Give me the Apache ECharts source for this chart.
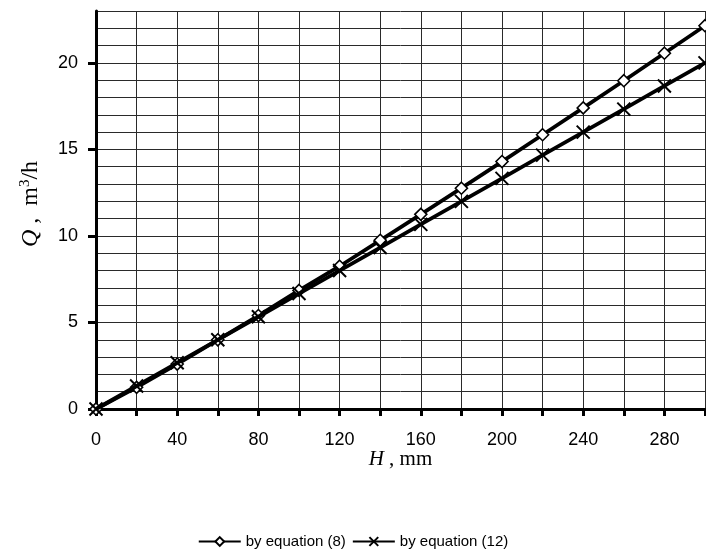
<!DOCTYPE html>
<html>
<head>
<meta charset="utf-8">
<script src="https://cdn.jsdelivr.net/npm/echarts@6/dist/echarts.min.js"></script>
<style>
html,body{margin:0;padding:0;background:#fff;}
#c{width:706px;height:555px;}
</style>
</head>
<body>
<div id="c"></div>
<script>
const H = [0, 20, 40, 60, 80, 100, 120, 140, 160, 180, 200, 220, 240, 260, 280, 300];
const Q_eq8 = [0, 1.25, 2.6, 4.0, 5.4, 6.85, 8.25, 9.75, 11.25, 12.76, 14.3, 15.85, 17.4, 18.97, 20.56, 22.15];
const Q_eq12 = [0, 1.33, 2.67, 4.0, 5.33, 6.67, 8.0, 9.33, 10.67, 12.0, 13.33, 14.67, 16.0, 17.33, 18.67, 20.0];
const xLabels = [0, 40, 80, 120, 160, 200, 240, 280];
const yLabels = [0, 5, 10, 15, 20];
const seriesNames = ['by equation (8)', 'by equation (12)'];

const crossPath = 'path://M0,0L10,10M10,0L0,10';
const chart = echarts.init(document.getElementById('c'), null, {renderer: 'canvas'});
chart.setOption({
  backgroundColor: '#fff',
  animation: false,
  grid: {left: 96, right: 1, top: 11, bottom: 146},
  xAxis: {
    type: 'value', min: 0, max: 300, interval: 20,
    name: '{i|H} , mm', nameLocation: 'middle', nameGap: 39, nameMoveOverlap: false,
    nameTextStyle: {fontFamily: 'Liberation Serif', fontSize: 21, color: '#000', lineHeight: 22,
      rich: {i: {fontFamily: 'Liberation Serif', fontStyle: 'italic', fontSize: 21, color: '#000', lineHeight: 22}}},
    axisLine: {show: true, lineStyle: {color: '#000', width: 3}},
    axisTick: {show: true, inside: false, length: 7, lineStyle: {color: '#000', width: 3}},
    axisLabel: {customValues: xLabels, margin: 22, fontFamily: 'Liberation Sans', fontSize: 18, color: '#000'},
    splitLine: {show: true, lineStyle: {color: '#2a2a2a', width: 1}}
  },
  yAxis: [
    {
      type: 'value', min: 0, max: 23, interval: 1,
      name: '{i|Q} ,  m{s|3}/h', nameLocation: 'middle', nameGap: 52, nameRotate: 90, nameMoveOverlap: false,
      nameTextStyle: {fontFamily: 'Liberation Serif', fontSize: 24, color: '#000', padding: [0, 0, 0, 12],
        rich: {
          i: {fontFamily: 'Liberation Serif', fontStyle: 'italic', fontSize: 24, color: '#000'},
          s: {fontFamily: 'Liberation Serif', fontSize: 15, color: '#000', verticalAlign: 'top', padding: [0, 0, 11, 0]}
        }},
      axisLine: {show: true, lineStyle: {color: '#000', width: 3}},
      axisTick: {show: false},
      axisLabel: {customValues: yLabels, margin: 18, fontFamily: 'Liberation Sans', fontSize: 18, color: '#000'},
      splitLine: {show: true, lineStyle: {color: '#2a2a2a', width: 1}}
    },
    {
      type: 'value', min: 0, max: 23, position: 'left',
      axisLine: {show: false},
      axisTick: {show: true, inside: false, length: 8, customValues: yLabels, lineStyle: {color: '#000', width: 3}},
      axisLabel: {show: false},
      splitLine: {show: false}
    }
  ],
  legend: {
    bottom: 1, left: 'center', itemWidth: 42, itemHeight: 11, itemGap: 6,
    textStyle: {fontFamily: 'Liberation Sans', fontSize: 15, color: '#000'},
    data: seriesNames
  },
  series: [
    {
      name: seriesNames[0], type: 'line',
      data: H.map((h, i) => [h, Q_eq8[i]]),
      symbol: 'diamond', symbolSize: 12, showAllSymbol: true,
      lineStyle: {color: '#000', width: 3.8},
      itemStyle: {color: '#fff', borderColor: '#000', borderWidth: 1.6},
      z: 3
    },
    {
      name: seriesNames[1], type: 'line',
      data: H.map((h, i) => [h, Q_eq12[i]]),
      symbol: crossPath, symbolSize: 13, showAllSymbol: true,
      lineStyle: {color: '#000', width: 3.8},
      itemStyle: {color: '#fff', borderColor: '#000', borderWidth: 2},
      z: 4
    }
  ]
});
</script>
</body>
</html>
